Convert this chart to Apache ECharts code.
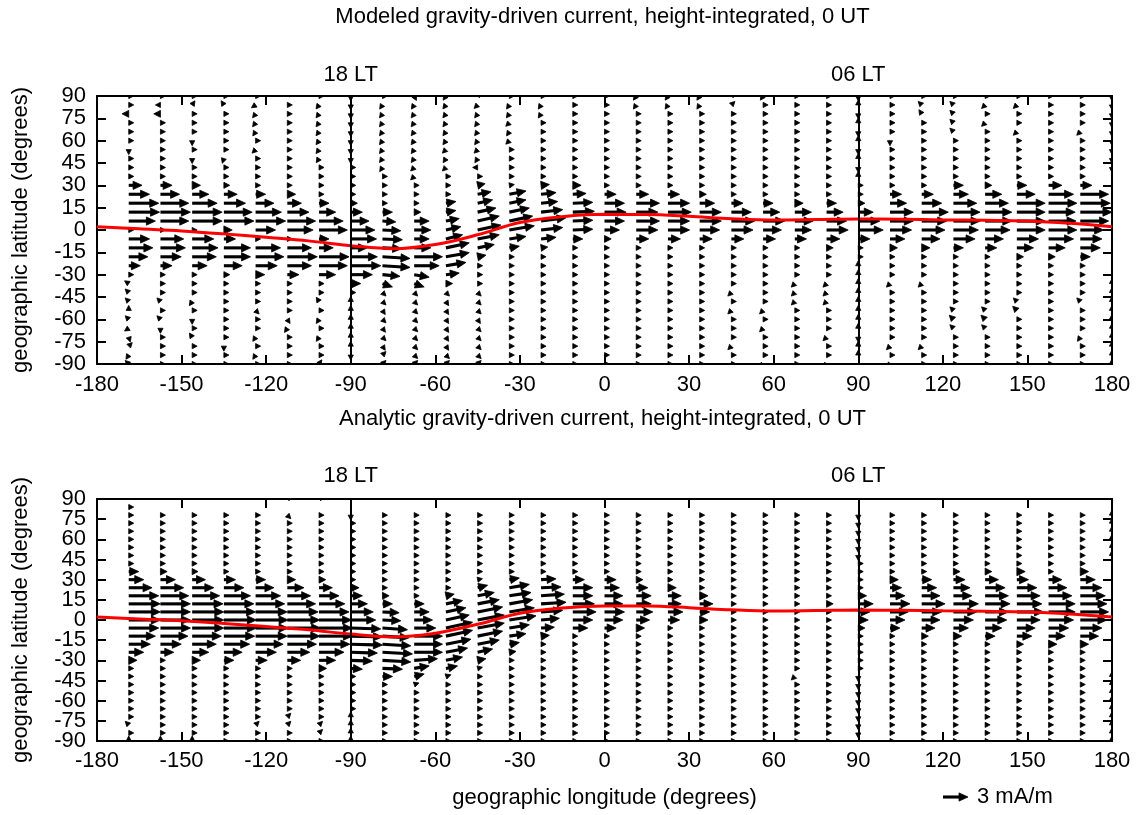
<!DOCTYPE html>
<html>
<head>
<meta charset="utf-8">
<script src="https://cdn.jsdelivr.net/npm/echarts@6/dist/echarts.min.js"></script>
<style>
html,body{margin:0;padding:0;background:#fff;}
#chart{width:1140px;height:815px;}
</style>
</head>
<body>
<div id="chart"></div>
<script>
// Grid of vector tails: longitude columns and latitude rows (degrees)
const lonColumns = [-168.75,-157.5,-146.25,-135,-123.75,-112.5,-101.25,-90,-78.75,-67.5,-56.25,-45,-33.75,-22.5,-11.25,0,11.25,22.5,33.75,45,56.25,67.5,78.75,90,101.25,112.5,123.75,135,146.25,157.5,168.75,180];
const latRows = [90,84,78,72,66,60,54,48,42,36,30,24,18,12,6,0,-6,-12,-18,-24,-30,-36,-42,-48,-54,-60,-66,-72,-78,-84,-90];

// Axis tick values
const lonTicks = [-180,-150,-120,-90,-60,-30,0,30,60,90,120,150,180];
const latTicks = [-90,-75,-60,-45,-30,-15,0,15,30,45,60,75,90];

// Dip equator (geographic latitude at each longitude)
const dipLon = [-180,-165,-150,-135,-120,-105,-90,-75,-60,-45,-30,-15,0,15,30,45,60,75,90,105,120,135,150,165,180];
const dipLat = [2.2,0.8,-0.6,-2.6,-4.9,-7.3,-10.5,-12.6,-9.8,-3.2,5.0,8.9,10.5,10.4,9.2,7.6,6.7,7.0,7.4,7.2,6.8,6.5,6.0,4.5,2.2];

// Modeled current, eastward component (mA/m), one array per longitude column, rows 90 -> -90
const modeledEast = [
[0.1,0.1,-0.8,0.1,0.1,0.1,0,0.1,0.1,0.1,1.6,2.5,3.6,3.7,3.2,0.2,2.5,2.9,2.3,1.4,0.2,-0.3,-0.1,-0.3,0,-0.2,-0.3,0.1,0.1,-0.2,-0.3],
[0.1,-0.2,-0.8,0.1,0.1,0.1,0.1,0.1,0.1,0.1,1.4,2.3,3.4,3.6,3.4,0.2,2.8,3.0,2.5,1.4,0.2,0.1,0.1,-0.2,0.1,-0.3,0,0.1,0.1,0.1,0.1],
[0.1,0.2,0.1,0.1,0.1,0,0.1,0,0.1,0.1,1.0,2.0,3.0,3.6,3.6,0.5,2.6,3.1,2.9,1.8,0.4,0.1,0.1,-0.2,0.1,0,0.1,-0.2,0.1,0.1,0.1],
[0.1,-0.2,0.1,0.1,0.1,0.1,0.1,-0.1,0.1,0.1,0.7,1.6,2.6,3.4,3.6,1.0,1.4,3.2,3.2,2.2,0.7,0.1,0.1,0.1,0.1,0.1,0.1,0.1,0,0.1,0.1],
[0.1,-0.3,-0.3,-0.3,-0.2,0.1,-0.3,0.1,0.1,0.1,0.5,1.2,2.2,3.1,3.6,2.4,0.3,3.0,3.4,2.6,1.1,0.2,0.1,0.1,0.2,0.1,0.1,-0.2,0.1,-0.2,0.1],
[0.1,0.1,0.1,0.1,0.1,0.1,0.1,0.1,0.1,0.1,0.2,1.0,1.7,2.6,3.4,3.1,0.3,2.9,3.6,2.9,1.4,0.2,0.1,0.1,0.1,0.2,-0.2,0.1,0.1,0.1,0.1],
[0.1,-0.3,-0.3,-0.3,-0.3,-0.3,-0.3,-0.2,0.1,0.1,0.2,0.6,1.2,2.0,2.9,3.4,1.2,1.7,3.6,3.4,2.0,0.6,0.1,-0.2,0.1,-0.2,0.1,-0.2,0.1,0.1,0.2],
[0,0,0,0,0,0,0,0,0.1,0.1,0.1,0.2,0.8,1.4,2.2,2.9,3.1,2.0,3.2,3.6,2.6,1.2,0.2,0,0,0,0,0,0,0,0],
[0.1,-0.2,-0.3,-0.3,-0.3,-0.3,-0.3,-0.3,-0.2,0.1,0.1,0.1,0.3,1.2,1.6,2.2,2.4,2.3,3.3,3.3,2.1,1.2,0.3,0.2,0.2,0.3,0.3,0.3,0.2,0.1,0.1],
[0.1,-0.2,-0.3,-0.3,-0.3,-0.3,-0.3,-0.3,-0.3,-0.2,0.1,0.1,0.3,0.8,1.8,2.0,1.8,2.0,3.4,3.0,1.8,1.2,0.3,0.3,0.3,0.3,0.3,0.3,0.3,0.2,0.1],
[-0.2,-0.3,-0.3,-0.3,-0.3,-0.3,-0.3,-0.2,-0.2,0.1,0.1,0.2,1.2,1.2,1.6,1.8,2.0,2.8,2.8,2.4,1.6,0.8,0.2,0.2,0.2,0.2,0.2,0.2,0.2,0.2,0.1],
[0.1,-0.3,-0.3,-0.3,-0.3,-0.3,-0.3,-0.2,-0.1,0.1,0.9,1.6,1.8,2.2,2.6,2.8,2.6,2.0,1.0,0.3,0.1,0.1,0.2,0.2,0.2,0.2,0.3,0.3,0.2,0.2,0.1],
[0.1,-0.2,-0.3,-0.3,-0.2,-0.2,0.1,0.1,0.1,0.2,0.6,2.0,2.0,2.4,2.8,3.0,2.0,1.2,0.4,0.1,0.1,0.1,0.1,0.1,0.1,0.1,0.1,0.1,0.1,0.1,0.1],
[0.1,-0.2,-0.2,0.1,0.1,0.1,0.1,0.1,0.1,0.2,1.0,1.8,2.0,2.6,3.0,2.6,1.8,0.8,0.2,0.1,0.1,0.1,0.1,0.1,0.1,0.1,0.1,0.1,0.1,0.1,0.1],
[0.1,0.1,0.1,0.1,0.1,0.1,0.1,0.1,0.1,0.3,1.0,1.6,2.4,2.6,2.4,2.4,1.2,0.3,0.1,0.1,0.1,0.1,0.1,0.1,0.1,0.1,0.1,0.1,0.1,0.1,0.1],
[0.1,0.1,0.1,0.1,0.1,0.1,0.1,0.1,0.1,0.1,0.3,1.4,2.4,2.6,2.4,1.8,0.8,0.2,0.1,0.1,0.1,0.1,0.1,0.1,0.1,0.1,0.1,0.1,0.1,0.1,0.1],
[-0.2,-0.2,0.1,0.1,0.1,0.1,0.1,0.1,0.1,0.1,0.3,1.5,2.8,2.6,2.8,2.6,1.5,0.2,0.1,0.1,0.1,0.1,0.1,0.1,0.1,0.1,0.1,0.1,0.1,0.1,0.1],
[-0.2,-0.2,0.1,0.1,0.1,0.1,0.1,0.1,0.1,0.1,0.3,1.4,2.6,2.8,2.6,2.6,1.5,0.2,0.1,0.1,0.1,0.1,0.1,0.1,0.1,0.1,0.1,0.1,0.1,0.1,0.1],
[-0.2,-0.2,0.1,0.1,0.1,0.1,0.1,0.1,0.1,0.1,0.2,0.8,1.8,2.6,2.6,2.4,1.5,0.2,0.1,0.1,0.1,0.1,0.1,0.1,0.1,0.1,0.1,0.1,0.1,0.1,0.1],
[0.2,0.2,0.1,0.1,0.1,0.1,0.1,0.1,0.1,0.1,0.1,0.2,1.4,2.4,2.8,2.6,1.5,0.2,0.1,0.1,0.1,0.1,-0.3,0.1,-0.3,0.1,0.1,0.1,-0.3,0.1,0.1],
[-0.2,0.1,0.1,0.1,0.1,0.1,0.1,0.1,0.1,0.1,0.1,0.1,1.2,2.0,2.6,2.2,1.5,0.3,0.1,0.1,0.1,0.1,0.1,0.1,-0.3,0.1,-0.3,0.1,0.1,0.1,-0.3],
[0.1,0.1,0.1,0.1,0.1,0.1,0.1,0.1,0.1,0.1,0.1,0.1,1.0,2.0,2.2,2.0,1.4,0.6,0.1,0.1,0.1,-0.3,-0.3,-0.3,0.1,0.1,0.1,0.1,0.1,0.1,0.1],
[0.1,0.1,0.1,0.1,0.1,0.1,0.1,0.1,0.1,0.1,0.1,0.1,1.2,2.0,2.4,2.6,1.6,0.8,0.1,0.1,0.1,-0.3,-0.3,-0.3,0.1,0.1,0.1,-0.3,0.1,0.1,-0.3],
[0,0,0,0,0,0,0,0,0,0,0.1,0.1,0.8,1.8,2.6,3.0,1.4,0.6,0.1,0,0,0,0,0,0,0,0,0,0,0,0],
[0.1,0.1,0.1,0.1,0.1,0,0.1,0.1,0.1,0.1,0.2,1.4,2.0,2.8,2.8,2.6,1.8,0.9,0.2,0.1,0.1,-0.3,0.1,0.1,0.1,0.1,0.1,0.1,-0.3,0.1,-0.3],
[0.1,-0.3,-0.2,0.1,0.1,0.1,0.1,0.1,0.1,0.1,0.6,1.4,2.4,3.2,3.0,2.8,2.2,1.0,0.2,0.1,0.1,-0.3,0.1,0.1,0.1,0.1,0.1,0.1,-0.3,0.1,0.1],
[0.1,-0.3,-0.3,-0.3,-0.3,0.1,0.1,0.1,0.1,0.1,1.2,1.8,2.8,3.2,3.2,3.0,2.6,1.2,0.2,0.1,0.1,0.1,0.1,0.1,-0.2,-0.5,-0.3,0.1,0.1,0.1,0.1],
[0.1,-0.3,0.1,-0.3,0.1,0.1,0.1,0.1,0.1,0.1,0.8,2.0,2.8,3.2,3.2,3.0,2.2,1.4,0.3,0.1,0.1,0.1,0.1,0.1,-0.3,-0.5,-0.3,0.1,0.1,0.1,0.1],
[0.1,-0.3,0.1,0.1,-0.3,0.1,0.1,0.1,0.1,0.2,1.2,2.2,3.4,3.4,3.4,3.4,2.6,2.0,0.8,0.2,0.1,0.1,0.1,-0.3,-0.5,0.1,0.3,0.1,0.1,0.1,0.1],
[0.1,0.1,0.1,0.1,0.1,0.1,0.1,0.1,0.1,0.3,1.6,3.0,3.4,3.2,3.3,3.4,3.0,2.0,0.8,0.2,0.1,0.1,0.1,0.1,0.1,0.1,0.4,0.3,0.1,0.1,0.1],
[0.1,0.1,0.1,0.1,-0.3,0.1,0.1,0.1,0.1,0.3,1.4,3.4,3.6,3.8,3.4,2.8,2.6,2.4,1.2,0.3,0.1,0.1,0.1,-0.3,0.1,0.1,0.1,-0.2,0.1,0.1,0.1],
[0,0,0,0,0,0,0,0,0,0.3,1.2,2.8,3.6,3.6,3.2,2.6,2.8,2.6,1.6,0.4,0.1,0,0,0,0,0,0,0,0,0,0]
];

// Modeled current, northward component (mA/m)
const modeledNorth = [
[0,0,0,0,0,0,-0.3,0,0,0,0,0,0,0,0,0,0,0,0,0,0,0.2,0.1,0.3,0.3,0.2,-0.2,-0.3,0.1,-0.3,0.3],
[0,0,0,0,0,0,0,0,0,0,0,0,0,0,0,0,0,0,0,0,0,0,0,0.2,0,0.3,-0.3,0,0,0,0],
[0,0.3,0,0,0,-0.3,0,-0.3,0,0,0,0,0,0,0,0,0,0,0,0,0,0,0,-0.3,0,-0.3,0,0.3,0,0,0],
[0,0.3,0,0,0,0,0,-0.3,0,0,0,0,0,0,0,0,0,0,0,0,0,0,0,0,0,0,0,0,-0.3,0,0],
[0,-0.2,-0.4,-0.4,-0.3,0,-0.3,0,0,0,0,0,0,0,0,0,0,0,0,0,0,0,0,0,-0.2,0,0,-0.3,0,-0.3,0],
[0.3,0,0,0,0,0,0,0,0,0,0,0,0,0,0,0,0,0,0,0,0,0,0,0,0,-0.3,-0.3,0,0,0,0],
[0,-0.4,-0.4,-0.4,-0.4,-0.4,-0.4,-0.3,0,0,0,0,0,0,0,0,0,0,0,0,0,0,0,0.3,0,-0.3,0,-0.3,0,0,0.3],
[-0.3,-0.3,-0.3,-0.3,-0.3,-0.3,-0.2,-0.2,0,0,0,0,0,0,0,0,0,0,0,0,0,0,0,0.3,0.3,0.3,0.3,0.3,0.3,-0.3,-0.3],
[0,-0.3,-0.4,-0.4,-0.4,-0.4,-0.4,-0.4,-0.3,0,0,0,0,0,-0.1,-0.1,-0.1,-0.1,-0.2,-0.2,-0.2,-0.4,-0.3,-0.2,-0.3,-0.3,-0.4,-0.3,-0.3,0.1,0.1],
[-0.2,-0.3,-0.4,-0.4,-0.4,-0.4,-0.4,-0.4,-0.3,-0.2,0,0,0,0,0,0,0,0,0,0,-0.3,-0.4,-0.3,-0.3,-0.3,-0.3,-0.3,-0.3,-0.3,-0.2,0.1],
[-0.3,-0.4,-0.4,-0.4,-0.4,-0.4,-0.3,-0.3,-0.2,0,0,0,0.2,0.2,0.3,0.4,0.5,0.6,0.5,0.4,0.2,0,-0.2,-0.3,-0.3,-0.3,-0.3,-0.3,-0.3,-0.2,0.1],
[0.1,-0.3,-0.4,-0.4,-0.4,-0.4,-0.3,-0.3,0,0,0.2,0.3,0.4,0.5,0.6,0.6,0.5,0.4,0.2,0,0,0,-0.2,-0.2,-0.2,-0.3,-0.3,-0.3,-0.2,-0.2,0.1],
[0,-0.3,-0.4,-0.3,-0.3,-0.2,0,0,0,0,0.1,0.4,0.4,0.5,0.6,0.5,0.3,0.2,0,0,0,0,0,0,0,0,0,0,0,0,0],
[0,-0.3,-0.3,0,0,0,0,0,0,0,0.1,0.2,0.2,0.3,0.4,0.3,0.2,0.1,0,0,0,0,0,0,0,0,0,0,0,0,0],
[0,0,0,0,0,0,0,0,0,0,0,0.1,0.1,0.1,0.1,0.1,0,0,0,0,0,0,0,0,0,0,0,0,0,0,0],
[0,0,0,0,0,0,0,0,0,0,0,0,0,0,0,0,0,0,0,0,0,0,0,0,0,0,0,0,0,0,0],
[-0.3,-0.3,0,0,0,0,0,0,0,0,0,0,0,0,0,0,0,0,0,0,0,0,0,0,0,0,0,0,0,0,0],
[-0.3,-0.3,0,0,0,0,0,0,0,0,0,0,0,0,0,0,0,0,0,0,0,0,0,0,0,0,0,0,0,0,0],
[-0.3,-0.3,0,0,0,0,0,0,0,0,0,0,0,0,0,0,0,0,0,0,0,0,0,0,0,0,0,0,0,0,0],
[0.2,0.2,0,0,0,0,0,0,0,0,0,0,0,0,0,0,0,0,0,0,0,0,-0.3,0,-0.3,0,0,0,-0.3,0,0],
[-0.3,0,0,0,0,0,0,0,0,0,0,0,0,0,0,0,0,0,0,0,0,0,0,0,-0.3,0,-0.3,0,0,0,-0.3],
[0,0,0,0,0,0,0,0,0,0,0,0,0,0,0,0,0,0,0,0,0,-0.3,-0.3,-0.3,0,0,0,0,0,0,0],
[0,0,0,0,0,0,0,0,0,0,0,0,0,0,0,0,0,0,0,0,0,-0.3,-0.3,-0.3,0,0,0,-0.3,0,0,-0.3],
[-0.3,0.3,-0.2,0.2,-0.2,0.3,-0.3,0.2,-0.2,0.2,0,0,0,0,0,0,0,0,0,0.2,0.2,0.3,0.3,0.3,0.3,0.3,0.3,-0.3,0.3,0.3,-0.3],
[0,0,0,0,0,-0.3,0,0,0,0,0,0,0,0,0,0,0,0,0,0,0,-0.3,0,0,0,0,0,0,-0.3,0,-0.2],
[0,0.3,0.3,0,0,0,0,0,0,0,0,0,0,0,0,0,0,0,0,0,0,-0.3,0,0,0,0,0,0,-0.3,0,0],
[0,0.3,0.3,0.3,0.3,0,0,0,0,0,0,0,0,0,0,0,0,0,0,0,0,0,0,0,0.2,0.5,0.3,0,0,0,0],
[0,-0.3,0,-0.3,0,0,0,0,0,0,0,0,0,0,0,0,0,0,0,0,0,0,0,0,0.3,0.5,0.3,0,0,0,0],
[0,-0.3,0,0,-0.3,0,0,0,0,0,0,0,0,0,0,0,0,0,0,0,0,0,0,0.3,0.5,0,0,0,0,0,0],
[0,0,0,0,0,0,0,0,0,0,0,0,0,0,0,0,0,0,0,0,0,0,0,0,0,0,0,0,0,0,0],
[0,0,0,0,-0.3,0,0,0,0,0,0,0,0,0,0,0,0,0,0,0,0,0,0,0.3,0,0,0,-0.3,0,0,0],
[-0.2,-0.3,-0.2,-0.2,-0.2,-0.3,-0.3,-0.2,-0.2,0,0,0,0,0,0,0,0,0,0,0,0,0.3,0.3,0.3,0.3,0.3,0.3,0.3,0.3,0.3,0.2]
];

// Analytic current, eastward component (mA/m)
const analyticEast = [
[0,0.1,0.1,0.1,0.1,0.1,0.1,0.1,0.3,1.2,1.8,2.8,3.6,3.8,3.8,3.8,3.6,3.2,2.6,1.8,1.0,0.2,0.1,0.1,0.1,0.1,0.1,0.1,-0.2,0.1,0],
[0,0,0.1,0.1,0.1,0.1,0.1,0.1,0.2,0.8,1.8,2.8,3.4,3.6,3.6,3.6,3.6,3.3,2.5,1.6,0.6,0.2,0.1,0.1,0.1,0.1,0.1,0.1,0.1,0.1,0],
[0,0,0.1,0.1,0.1,0.1,0.1,0.1,0.1,0.7,1.6,2.6,3.3,3.7,3.8,3.8,3.8,3.5,2.9,2.0,1.0,0.3,0.1,0.1,0.1,0.1,0.1,0.1,0.1,0.1,0],
[0,0,0.1,0.1,0.1,0.1,0.1,0.1,0.1,0.5,1.4,2.4,3.2,3.6,3.8,3.9,3.9,3.7,3.1,2.2,1.2,0.4,0.1,0.1,0.1,0.1,0.1,0.1,0.1,0.1,0.1],
[0,0,0.1,0.1,0.1,0.1,0.1,0.1,0.1,0.4,1.2,2.2,3.0,3.5,3.8,3.9,3.9,3.8,3.3,2.5,1.4,0.5,0.1,0.1,0.1,0.1,0.1,0.1,0.2,0.1,0.1],
[0.2,0,0.2,0.1,0.1,0.1,0.1,0.1,0.1,0.3,1.0,2.0,2.8,3.4,3.7,3.9,4.0,3.9,3.5,2.7,1.6,0.6,0.2,0.1,0.1,0.1,0.1,0.2,0.2,0.1,0.1],
[0.2,0,0.1,0.1,0.1,0.1,0.1,0.1,0.1,0.1,0.8,1.6,2.4,3.1,3.6,3.9,4.0,4.0,3.7,3.0,2.0,0.9,0.3,0.1,0.1,0.1,0.1,0.1,0.2,0.2,0.1],
[0,0,0,0.1,0.1,0.1,0.1,0.1,0.1,0.1,0.5,1.0,1.4,2.0,2.7,3.0,3.6,3.8,3.8,3.2,2.6,1.4,0.5,0.1,0.1,0.1,0.1,0,0,0,0],
[0,0,0.1,0.1,0.1,0.1,0.1,0.1,0.1,0.1,0.1,0.3,0.8,1.2,2.0,2.2,3.0,3.2,3.4,3.6,3.4,2.4,1.2,0.3,0.1,0.1,0.1,0.1,0.1,0.1,0.1],
[0,0,0.1,0.1,0.1,0.1,0.1,0.1,0.1,0.1,0.1,0.1,0.5,1.2,1.8,2.2,2.6,3.4,3.4,3.4,2.8,1.8,1.2,0.3,0.1,0.1,0.1,0.1,0.1,0.1,0.1],
[0,0,0.1,0.1,0.1,0.1,0.1,0.1,0.1,0.1,0.1,0.2,1.0,2.0,2.4,2.8,3.2,3.2,3.0,2.6,2.0,1.4,0.6,0.2,0.1,0.1,0.1,0.1,0.1,0.1,0.1],
[0,0,0.1,0.1,0.1,0.1,0.1,0.1,0.1,0.1,0.5,1.2,2.0,2.6,3.0,3.2,3.2,3.0,2.6,1.8,1.0,0.4,0.1,0.1,0.1,0.1,0.1,0.1,0.1,0.1,0.1],
[0,0,0.1,0.1,0.1,0.1,0.1,0.1,0.1,0.3,1.2,2.4,2.6,2.8,3.0,3.2,2.4,2.0,1.2,0.8,0.3,0.1,0.1,0.1,0.1,0.1,0.1,0.1,0.1,0.1,0.1],
[0,0,0.1,0.1,0.1,0.1,0.1,0.1,0.1,0.4,1.8,2.4,2.8,3.0,2.6,2.2,1.6,1.0,0.3,0.1,0.1,0.1,0.1,0.1,0.1,0.1,0.1,0.1,0.1,0.1,0.1],
[0,0,0.1,0.1,0.1,0.1,0.1,0.1,0.1,0.3,1.4,2.4,2.4,2.6,2.8,2.4,1.8,0.4,0.1,0.1,0.1,0.1,0.1,0.1,0.1,0.1,0.1,0.1,0.1,0.1,0.1],
[0,0,0.1,0.1,0.1,0.1,0.1,0.1,0.1,0.3,1.4,1.8,2.2,2.2,2.4,2.2,1.4,0.3,0.1,0.1,0.1,0.1,0.1,0.1,0.1,0.1,0.1,0.1,0.1,0.1,0.1],
[0,0,0.1,0.1,0.1,0.1,0.1,0.1,0.1,0.2,0.8,1.4,1.8,1.8,2.0,1.6,1.0,0.2,0.1,0.1,0.1,0.1,0.1,0.1,0.1,0.1,0.1,0.1,0.1,0.1,0.1],
[0,0,0.1,0.1,0.1,0.1,0.1,0.1,0.1,0.1,0.3,1.0,1.6,1.6,1.8,1.4,0.6,0.1,0.1,0.1,0.1,0.1,0.1,0.1,0.1,0.1,0.1,0.1,0.1,0.1,0.1],
[0,0,0.1,0.1,0.1,0.1,0.1,0.1,0.1,0.1,0.1,0.3,1.0,1.6,1.2,1.0,0.3,0.1,0.1,0.1,0.1,0.1,0.1,0.1,0.1,0.1,0.1,0.1,0.1,0.1,0.1],
[0,0,0.1,0.1,0.1,0.1,0.1,0.1,0.1,0.1,0.1,0.1,0.3,0.6,0.6,0.3,0.1,0.1,0.1,0.1,0.1,0.1,0.1,0.1,0.1,0.1,0.1,0.1,0.1,0.1,0.1],
[0,0,0.1,0.1,0.1,0.1,0.1,0.1,0.1,0.1,0.1,0.1,0.1,0.3,0.3,0.1,0.1,0.1,0.1,0.1,0.1,0.1,0.1,0.1,0.1,0.1,0.1,0.1,0.1,0.1,0.1],
[0,0,0.1,0.1,0.1,0.1,0.1,0.1,0.1,0.1,0.1,0.1,0.1,0.2,0.2,0.1,0.1,0.1,0.1,0.1,0.1,0.1,-0.2,0.1,0.1,0.1,0.1,0.1,0.1,0.1,0.1],
[0,0,0.1,0.1,0.1,0.1,0.1,0.1,0.1,0.1,0.1,0.1,0.1,0.8,0.4,0.3,0.1,0.1,0.1,0.1,0.1,0.1,0.1,0.1,0.1,0.1,0.1,0.1,0.1,0.1,0.1],
[0,0,0,0,0,0,0,0,0.1,0.1,0.1,0.6,1.0,1.8,1.4,1.2,0.8,0.2,0.1,0.1,0.1,0.1,0,0,0,0,0,0,0,0,0],
[0,0,0.1,0.1,0.1,0.1,0.1,0.1,0.1,0.1,1.0,1.4,1.8,2.4,2.2,1.8,1.2,0.6,0.2,0.1,0.1,0.1,0.1,0.1,0.1,0.1,0.1,0.1,0.1,0.1,0.1],
[0,0,0.1,0.1,0.1,0.1,0.1,0.1,0.1,0.6,1.2,1.8,2.2,2.8,2.4,2.2,1.6,0.8,0.2,0.1,0.1,0.1,0.1,0.1,0.1,0.1,0.1,0.1,0.1,0.1,0.1],
[0,0,0.1,0.1,0.1,0.1,0.1,0.1,0.1,0.8,1.4,2.0,2.2,3.0,2.8,2.4,1.8,1.0,0.3,0.1,0.1,0.1,0.1,0.1,0.1,0.1,0.1,0.1,0.1,0.1,0.1],
[0,0,0.1,0.1,0.1,0.1,0.1,0.1,0.1,0.8,1.6,2.4,2.8,3.0,2.8,2.6,2.0,1.2,0.6,0.2,0.1,0.1,0.1,0.1,0.1,0.1,0.1,0.1,0.1,0.1,0.1],
[0,0,0.1,0.1,0.1,0.1,0.1,0.1,0.2,1.0,1.4,2.4,2.8,3.0,3.2,2.8,2.2,1.8,0.8,0.2,0.1,0.1,0.1,0.1,0.1,0.1,0.1,0.1,0.1,0.1,0.1],
[0,0,0.1,0.1,0.1,0.1,0.1,0.1,0.1,0.6,1.6,2.2,2.8,3.2,3.2,3.0,2.4,2.0,1.0,0.3,0.1,0.1,0.1,0.1,0.1,0.1,0.1,0.1,0.1,0.1,0.1],
[0,0,0.1,0.1,0.1,0.1,0.1,0.1,0.2,1.0,1.8,2.6,3.0,3.2,3.4,3.2,2.6,2.2,1.0,0.3,0.1,0.1,0.1,0.1,0.1,0.1,0.1,0.1,0.1,0.1,0.1],
[0,0,0,0,0,0,0,0,0.2,1.0,1.8,2.6,3.2,3.4,3.6,3.6,3.2,2.4,1.4,0.5,0.1,0.1,0,0,0,0,0,0,0,0,0]
];

// Analytic current, northward component (mA/m)
const analyticNorth = [
[0,0,0,0,0,0,0,0,0,0,0,0,0,0,0,0,0,0,0,0,0,0,0,0,0,0,0,0,0.2,0,0.3],
[0,0,0,0,0,0,0,0,0,0,0,0,0,0,0,0,0,0,0,0,0,0,0,0,0,0,0,0,0,0,0.3],
[0,0,0,0,0,0,0,0,0,0,0,0,0,0,0,0,0,0,0,0,0,0,0,0,0,0,0,0,0,0,0.3],
[0,0,0,0,0,0,0,0,0,0,0,0,0,0,0,0,0,0,0,0,0,0,0,0,0,0,0,0,0,0,0],
[0,0,0,0,0,0,0,0,0,0,0,0,0,0,0,0,0,0,0,0,0,0,0,0,0,0,0,0,0.2,0,0],
[0.2,0,-0.2,0,0,0,0,0,0,0,0,0,0,0,0,0,0,0,0,0,0,0,0,0,0,0,0,0.2,0.2,0,0],
[0.2,0,0,0,0,0,0,0,0,0,0,0,0,0,0,0,0,0,0,0,0,0,0,0,0,0,0,0,0.2,0.2,0],
[0.2,0,-0.3,0,0,0,0,0,0,0,0,0,0,0,0,0,-0.1,-0.1,-0.1,-0.1,-0.1,-0.1,0,0,0,0,0,0.3,0.3,0.3,0.3],
[0,0,0,0,0,0,0,0,0,0,0,0,0,0,-0.1,-0.1,-0.2,-0.2,-0.2,-0.2,-0.2,-0.1,0,0,0,0,0,0,0,0,0],
[0,0,0,0,0,0,0,0,0,0,0,0,0,0,0,0,0,0,0,0,0.2,0.3,0.3,0.1,0,0,0,0,0,0,0],
[0,0,0,0,0,0,0,0,0,0,0,0,0.2,0.4,0.5,0.6,0.7,0.7,0.6,0.5,0.4,0.3,0.2,0,0,0,0,0,0,0,0],
[0,0,0,0,0,0,0,0,0,0,0.1,0.3,0.4,0.5,0.6,0.6,0.6,0.6,0.5,0.4,0.2,0.1,0,0,0,0,0,0,0,0,0],
[0,0,0,0,0,0,0,0,0,0,0.2,0.4,0.4,0.5,0.5,0.5,0.4,0.3,0.2,0.1,0,0,0,0,0,0,0,0,0,0,0],
[0,0,0,0,0,0,0,0,0,0,0.1,0.1,0.2,0.2,0.2,0.2,0.1,0.1,0,0,0,0,0,0,0,0,0,0,0,0,0],
[0,0,0,0,0,0,0,0,0,0,0,0,0,0,0,0,0,0,0,0,0,0,0,0,0,0,0,0,0,0,0],
[0,0,0,0,0,0,0,0,0,0,0,0,0,0,0,0,0,0,0,0,0,0,0,0,0,0,0,0,0,0,0],
[0,0,0,0,0,0,0,0,0,0,0,0,0,0,0,0,0,0,0,0,0,0,0,0,0,0,0,0,0,0,0],
[0,0,0,0,0,0,0,0,0,0,0,0,0,0,0,0,0,0,0,0,0,0,0,0,0,0,0,0,0,0,0],
[0,0,0,0,0,0,0,0,0,0,0,0,0,0,0,0,0,0,0,0,0,0,0,0,0,0,0,0,0,0,0],
[0,0,0,0,0,0,0,0,0,0,0,0,0,0,0,0,0,0,0,0,0,0,0,0,0,0,0,0,0,0,0],
[0,0,0,0,0,0,0,0,0,0,0,0,0,0,0,0,0,0,0,0,0,0,0,0,0,0,0,0,0,0,0],
[0,0,0,0,0,0,0,0,0,0,0,0,0,0,0,0,0,0,0,0,0,0,-0.2,0,0,0,0,0,0,0,0],
[0,0,0,0,0,0,0,0,0,0,0,0,0,0,0,0,0,0,0,0,0,0,0,0,0,0,0,0,0,0,0],
[0,0,-0.2,-0.2,-0.2,-0.2,-0.2,-0.2,0,0,0,0,0,0,0,0,0,0,0,0,0,0,-0.2,-0.2,-0.2,-0.2,-0.2,-0.2,-0.2,-0.2,-0.2],
[0,0,0,0,0,0,0,0,0,0,0,0,0,0,0,0,0,0,0,0,0,0,0,0,0,0,0,0,0,0,0],
[0,0,0,0,0,0,0,0,0,0,0,0,0,0,0,0,0,0,0,0,0,0,0,0,0,0,0,0,0,0,0],
[0,0,0,0,0,0,0,0,0,0,0,0,0,0,0,0,0,0,0,0,0,0,0,0,0,0,0,0,0,0,0],
[0,0,0,0,0,0,0,0,0,0,0,0,0,0,0,0,0,0,0,0,0,0,0,0,0,0,0,0,0,0,0],
[0,0,0,0,0,0,0,0,0,0,0,0,0,0,0,0,0,0,0,0,0,0,0,0,0,0,0,0,0,0,0],
[0,0,0,0,0,0,0,0,0,0,0,0,0,0,0,0,0,0,0,0,0,0,0,0,0,0,0,0,0,0,0],
[0,0,0,0,0,0,0,0,0,0,0,0,0,0,0,0,0,0,0,0,0,0,0,0,0,0,0,0,0,0,0],
[0,0,0.2,0.2,0.2,0.2,0.2,0.2,0,0,0,0,0,0,0,0,0,0,0,0,0,0,0.2,0.2,0.2,0.2,0.2,0.2,0.2,0.2,0.2]
];

const legendValue = 3; // mA/m reference arrow

const FONT = "'Liberation Sans', Arial, Helvetica, sans-serif";
const PX_PER_MA = 25 / 3; // pixel length of 1 mA/m

// Build one arrow (shaft + filled head) as zrender shapes
function arrowShapes(x0, y0, u, v) {
  const mag = Math.hypot(u, v);
  if (mag === 0) return [];
  const len = mag * PX_PER_MA;
  const dx = u / mag, dy = -v / mag;
  const head = Math.min(9, Math.max(5, len));
  const reach = Math.max(len, head);
  const tx = x0 + dx * reach, ty = y0 + dy * reach;
  const bx = tx - dx * head, by = ty - dy * head;
  const hw = head < 8 ? head * 0.52 : 4.1;
  const px = -dy * hw, py = dx * hw;
  const out = [];
  if (reach - head > 0.3) {
    out.push({type: 'line', shape: {x1: x0, y1: y0, x2: bx + dx * 1.5, y2: by + dy * 1.5},
      style: {stroke: '#000', lineWidth: 3.1, lineCap: 'butt'}});
  }
  out.push({type: 'polygon', shape: {points: [[tx, ty], [bx + px, by + py], [bx - px, by - py]]},
    style: {fill: '#000', stroke: '#000', lineWidth: 0.8, lineJoin: 'round'}});
  return out;
}

function vectorData(east, north) {
  const out = [];
  lonColumns.forEach((lon, c) => {
    latRows.forEach((lat, r) => {
      const u = east[c][r], v = north[c][r];
      if (u === 0 && v === 0) return;
      out.push([lon, lat, u, v]);
    });
  });
  return out;
}

function renderVector(params, api) {
  const p = api.coord([api.value(0), api.value(1)]);
  return {type: 'group', children: arrowShapes(p[0], p[1], api.value(2), api.value(3))};
}

const axisLine = {show: true, onZero: false, lineStyle: {color: '#000', width: 2}};
const axisTick = {show: true, inside: true, length: 9, lineStyle: {color: '#000', width: 2}};

function xAxesFor(grid, margin) {
  return [
    {gridIndex: grid, type: 'value', position: 'bottom', min: lonTicks[0], max: lonTicks[lonTicks.length - 1], interval: 30,
      axisLine, axisTick, splitLine: {show: false},
      axisLabel: {color: '#000', fontSize: 22, fontFamily: FONT, margin, showMinLabel: true, showMaxLabel: true, hideOverlap: false}},
    {gridIndex: grid, type: 'value', position: 'top', min: lonTicks[0], max: lonTicks[lonTicks.length - 1], interval: 30,
      axisLine, axisTick, splitLine: {show: false}, axisLabel: {show: false}}
  ];
}
// Latitude labels are drawn as graphic texts below, so the axis itself only draws line and ticks
function yAxesFor(grid) {
  return [
    {gridIndex: grid, type: 'value', position: 'left', min: latTicks[0], max: latTicks[latTicks.length - 1], interval: 15,
      axisLine, axisTick, splitLine: {show: false}, axisLabel: {show: false}},
    {gridIndex: grid, type: 'value', position: 'right', min: latTicks[0], max: latTicks[latTicks.length - 1], interval: 15,
      axisLine, axisTick, splitLine: {show: false}, axisLabel: {show: false}}
  ];
}

const dipSeriesData = dipLon.map((x, i) => [x, dipLat[i]]);
const ltMarkers = {
  silent: true, symbol: ['none', 'none'], animation: false,
  label: {show: false},
  lineStyle: {color: '#000', width: 2, type: 'solid'},
  data: [{xAxis: -90}, {xAxis: 90}]
};

const chart = echarts.init(document.getElementById('chart'));
chart.setOption({
  animation: false,
  backgroundColor: '#fff',
  grid: [
    {left: 97, top: 96, width: 1015, height: 268},
    {left: 97, top: 499, width: 1015, height: 242}
  ],
  xAxis: [...xAxesFor(0, 10), ...xAxesFor(1, 9)],
  yAxis: [...yAxesFor(0), ...yAxesFor(1)],
  series: [
    {type: 'custom', xAxisIndex: 0, yAxisIndex: 0, clip: true, renderItem: renderVector,
      encode: {x: 0, y: 1}, data: vectorData(modeledEast, modeledNorth), z: 2},
    {type: 'custom', xAxisIndex: 2, yAxisIndex: 2, clip: true, renderItem: renderVector,
      encode: {x: 0, y: 1}, data: vectorData(analyticEast, analyticNorth), z: 2},
    {type: 'line', xAxisIndex: 0, yAxisIndex: 0, data: dipSeriesData, smooth: 0.35, symbol: 'none',
      lineStyle: {color: '#ff0000', width: 3}, z: 4, markLine: ltMarkers},
    {type: 'line', xAxisIndex: 2, yAxisIndex: 2, data: dipSeriesData, smooth: 0.35, symbol: 'none',
      lineStyle: {color: '#ff0000', width: 3}, z: 4, markLine: ltMarkers}
  ]
});

// Text labels and the reference arrow, placed from the grid coordinates
const top0 = chart.convertToPixel({xAxisIndex: 0, yAxisIndex: 0}, [-90, 90]);
const top0b = chart.convertToPixel({xAxisIndex: 0, yAxisIndex: 0}, [90, 90]);
const top1 = chart.convertToPixel({xAxisIndex: 2, yAxisIndex: 2}, [-90, 90]);
const top1b = chart.convertToPixel({xAxisIndex: 2, yAxisIndex: 2}, [90, 90]);
const mid0 = chart.convertToPixel({xAxisIndex: 0, yAxisIndex: 0}, [0, 0]);
const mid1 = chart.convertToPixel({xAxisIndex: 2, yAxisIndex: 2}, [0, 0]);
const bottom1 = chart.convertToPixel({xAxisIndex: 2, yAxisIndex: 2}, [0, -90]);

function txt(x, y, text, extra) {
  return Object.assign({type: 'text', x, y, style: {text, fill: '#000', font: '22px ' + FONT,
    textAlign: 'center', textVerticalAlign: 'middle'}}, extra || {});
}
function latLabels(yAxisIndex) {
  return latTicks.map(lat => {
    const y = chart.convertToPixel({yAxisIndex}, lat);
    const x = chart.convertToPixel({xAxisIndex: yAxisIndex}, lonTicks[0]) - 11;
    return {type: 'text', x, y, style: {text: String(lat), fill: '#000', font: '22px ' + FONT,
      textAlign: 'right', textVerticalAlign: 'middle'}};
  });
}
const centerX = (chart.convertToPixel({xAxisIndex: 0}, -180) + chart.convertToPixel({xAxisIndex: 0}, 180)) / 2;
const legendStart = [943, bottom1[1] + 56];
const legendArrow = arrowShapes(legendStart[0], legendStart[1], legendValue, 0);

chart.setOption({
  graphic: [
    txt(centerX - 2, 17, 'Modeled gravity-driven current, height-integrated, 0 UT'),
    txt(centerX - 2, 419, 'Analytic gravity-driven current, height-integrated, 0 UT'),
    txt(top0[0], top0[1] - 21, '18 LT'),
    txt(top0b[0], top0b[1] - 21, '06 LT'),
    txt(top1[0], top1[1] - 23, '18 LT'),
    txt(top1b[0], top1b[1] - 23, '06 LT'),
    txt(centerX, bottom1[1] + 57, 'geographic longitude (degrees)'),
    txt(21, mid0[1], 'geographic latitude (degrees)', {rotation: Math.PI / 2}),
    txt(21, mid1[1], 'geographic latitude (degrees)', {rotation: Math.PI / 2}),
    ...latLabels(0),
    ...latLabels(2),
    {type: 'group', children: legendArrow},
    {type: 'text', x: legendStart[0] + legendValue * PX_PER_MA + 9, y: legendStart[1],
      style: {text: legendValue + ' mA/m', fill: '#000', font: '22px ' + FONT, textAlign: 'left', textVerticalAlign: 'middle'}}
  ]
});
</script>
</body>
</html>
